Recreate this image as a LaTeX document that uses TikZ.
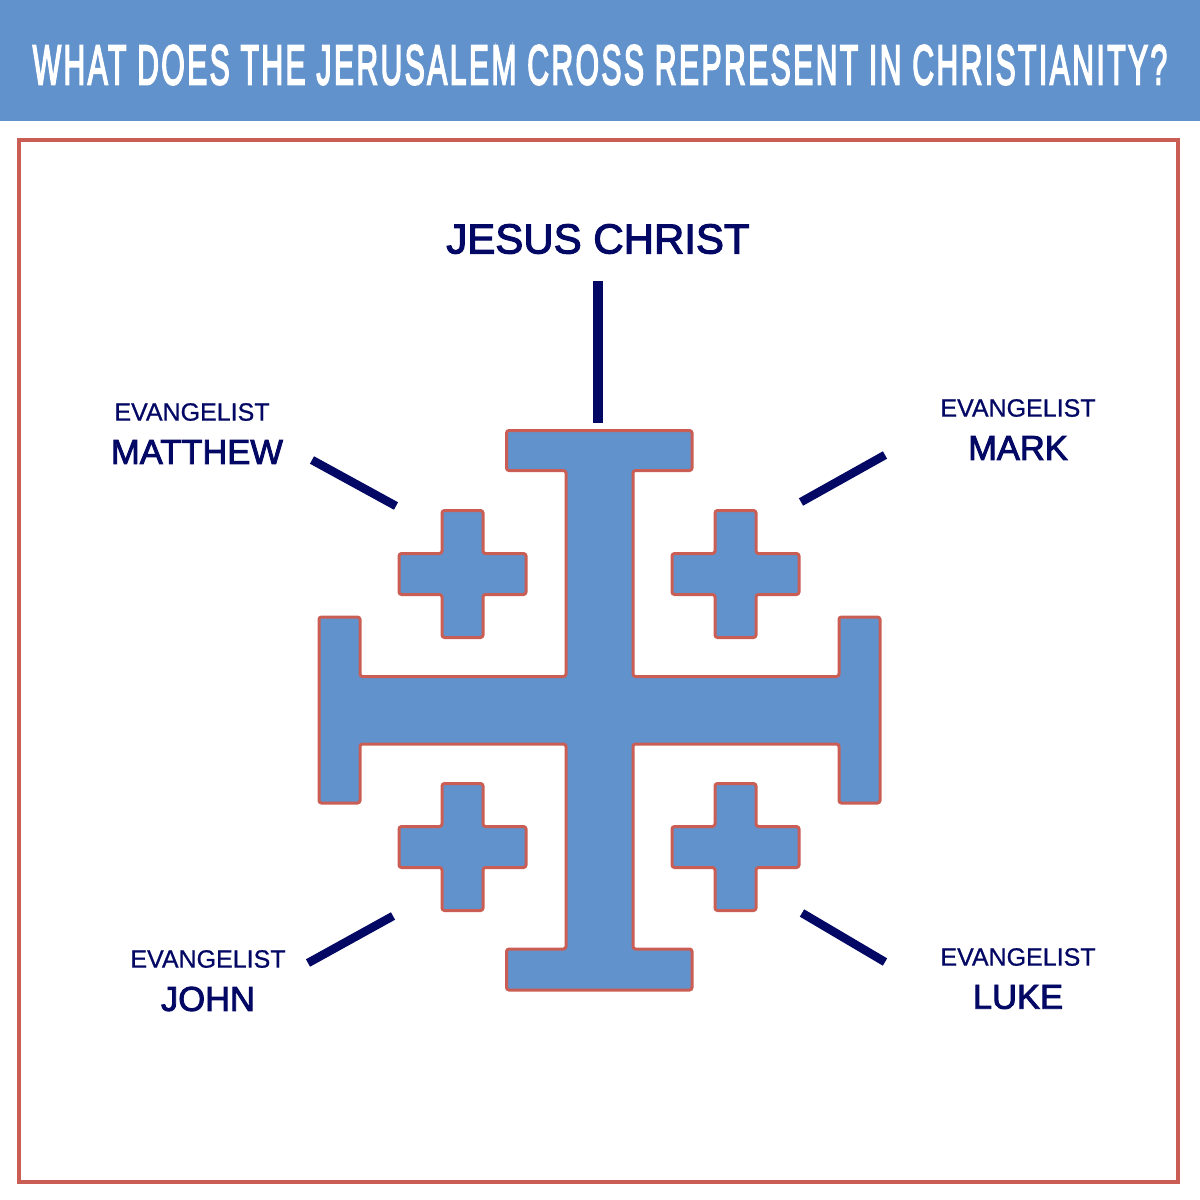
\documentclass[tikz,border=0pt]{standalone}
\usepackage{fontspec}
\setmainfont[FakeBold=0.8]{Liberation Sans}
\newfontfamily\headfont[FakeBold=4,LetterSpace=8]{Liberation Sans}
\newfontfamily\labelfont[FakeBold=2.6]{Liberation Sans}
\definecolor{hblue}{RGB}{97,146,204}
\definecolor{edge}{RGB}{203,94,84}
\definecolor{navy}{RGB}{3,8,100}
\tikzset{
  shapefill/.style={fill=hblue,draw=edge,line width=3pt,rounded corners=2.5pt},
  tick/.style={draw=navy,line width=8.5pt},
  small/.style={text=navy,font=\fontsize{25}{27}\selectfont,inner sep=0pt,anchor=center},
  big/.style={text=navy,font=\labelfont\fontsize{34.5}{37}\selectfont,inner sep=0pt,anchor=center},
}
\begin{document}
\begin{tikzpicture}[x=1pt,y=-1pt]
\useasboundingbox (0,0) rectangle (1200,1200);
\fill[white] (0,0) rectangle (1200,1200);
\fill[hblue] (0,0) rectangle (1200,121);
\node[text=white,inner sep=0pt,font=\headfont\fontsize{56}{60}\selectfont] (title) at (600,65) {\scalebox{0.538}[1]{WHAT DOES THE JERUSALEM CROSS REPRESENT IN CHRISTIANITY?}};
\draw[edge,line width=4pt] (18.5,140) rectangle (1178,1182);
\draw[shapefill] (506.5,430.5) -- (692,430.5) -- (692,470.5) -- (633,470.5) -- (633,676.5) -- (839,676.5) -- (839,617) -- (880,617) -- (880,803) -- (839,803) -- (839,744) -- (633,744) -- (633,949) -- (692,949) -- (692,990) -- (506.5,990) -- (506.5,949) -- (566,949) -- (566,744) -- (360,744) -- (360,803) -- (319,803) -- (319,617) -- (360,617) -- (360,676.5) -- (566,676.5) -- (566,470.5) -- (506.5,470.5) -- cycle;
\foreach \cx/\cy in {462.5/574,735.5/574,462.5/847,735.5/847}{
\draw[shapefill] (\cx-20.5,\cy-63.5) -- (\cx+20.5,\cy-63.5) -- (\cx+20.5,\cy-20.5) -- (\cx+63.5,\cy-20.5) -- (\cx+63.5,\cy+20.5) -- (\cx+20.5,\cy+20.5) -- (\cx+20.5,\cy+63.5) -- (\cx-20.5,\cy+63.5) -- (\cx-20.5,\cy+20.5) -- (\cx-63.5,\cy+20.5) -- (\cx-63.5,\cy-20.5) -- (\cx-20.5,\cy-20.5) -- cycle;
}
\node[big,font=\labelfont\fontsize{42}{46}\selectfont] (jc) at (598,239) {JESUS CHRIST};
\node[small] (e1) at (192,412) {EVANGELIST};
\node[big] (m1) at (197,452) {MATTHEW};
\node[small] (e2) at (1018,408) {EVANGELIST};
\node[big] (m2) at (1018,448) {MARK};
\node[small] (e3) at (208,959) {EVANGELIST};
\node[big] (m3) at (208,999) {JOHN};
\node[small] (e4) at (1018,957) {EVANGELIST};
\node[big] (m4) at (1018,997) {LUKE};
\coordinate (a1) at (598,281); \coordinate (a2) at (598,423);
\coordinate (b1) at (312,460); \coordinate (b2) at (396,506);
\coordinate (c1) at (885,455); \coordinate (c2) at (801,502);
\coordinate (d1) at (308,963); \coordinate (d2) at (393,916);
\coordinate (f1) at (885,962); \coordinate (f2) at (802,913);
\draw[tick,line width=10pt] (a1) -- (a2);
\draw[tick] (b1) -- (b2);
\draw[tick] (c1) -- (c2);
\draw[tick] (d1) -- (d2);
\draw[tick] (f1) -- (f2);
\end{tikzpicture}
\end{document}
